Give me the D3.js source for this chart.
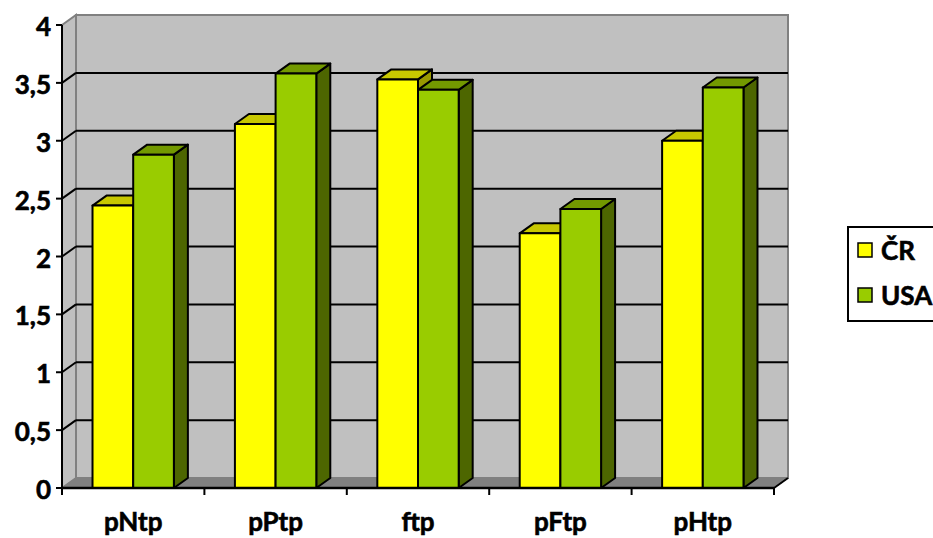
<!DOCTYPE html>
<html>
<head>
<meta charset="utf-8">
<script src="https://cdn.jsdelivr.net/npm/d3@7"></script>
<style>
  html, body { margin: 0; padding: 0; background: #fff; }
  svg { display: block; }
  text { font-family: Lato, "Open Sans", sans-serif; font-weight: bold; fill: #000; stroke: #000; stroke-width: 0.6px; }
</style>
</head>
<body>
<svg id="chart" width="933" height="538"></svg>
<script>
// Chart data
const categories = ["pNtp", "pPtp", "ftp", "pFtp", "pHtp"];
const seriesNames = ["ČR", "USA"];
const crValues  = [2.44, 3.145, 3.53, 2.20, 3.00];
const usaValues = [2.88, 3.58, 3.44, 2.41, 3.46];
const yTicks = [0, 0.5, 1, 1.5, 2, 2.5, 3, 3.5, 4];
const yTickLabels = ["0", "0,5", "1", "1,5", "2", "2,5", "3", "3,5", "4"];

const palette = {
  "ČR":  { front: "#FFFF00", top: "#C8C800", side: "#999900" },
  "USA": { front: "#99CC00", top: "#739900", side: "#4D6600" }
};
const wallFill = "#C0C0C0", floorFill = "#808080", frameStroke = "#808080";

const svg = d3.select("#chart");

// Plot frame (front plane) and oblique depth offset
const pLeft = 62, pRight = 774, pTop = 25, pBottom = 488;
const dx = 14, dy = -10;

const y = d3.scaleLinear().domain([0, 4]).range([pBottom, pTop]);
const x0 = d3.scaleBand().domain(categories).range([pLeft, pRight]).padding(0);
const barW = x0.bandwidth() / 3.5;
const x1 = d3.scaleBand().domain(seriesNames)
  .range([barW * 0.75, barW * 2.75]).padding(0);

const g = svg.append("g");

// Back wall
g.append("rect")
  .attr("x", pLeft + dx).attr("y", pTop + dy)
  .attr("width", pRight - pLeft).attr("height", pBottom - pTop)
  .attr("fill", wallFill).attr("stroke", frameStroke).attr("stroke-width", 2);

// Side wall
g.append("path")
  .attr("d", d3.line()([[pLeft, pTop], [pLeft + dx, pTop + dy], [pLeft + dx, pBottom + dy], [pLeft, pBottom]]) + "Z")
  .attr("fill", wallFill).attr("stroke", frameStroke).attr("stroke-width", 2);

// Floor
g.append("path")
  .attr("d", d3.line()([[pLeft, pBottom], [pRight, pBottom], [pRight + dx, pBottom + dy], [pLeft + dx, pBottom + dy]]) + "Z")
  .attr("fill", floorFill).attr("stroke", frameStroke).attr("stroke-width", 1);

// Gridlines on back wall and side wall
const gridVals = yTicks.filter(v => v > 0 && v < 4);
g.selectAll("line.grid-back").data(gridVals).join("line")
  .attr("class", "grid-back")
  .attr("x1", pLeft + dx).attr("x2", pRight + dx)
  .attr("y1", d => y(d) + dy).attr("y2", d => y(d) + dy)
  .attr("stroke", "#000").attr("stroke-width", 2);
g.selectAll("line.grid-side").data(gridVals).join("line")
  .attr("class", "grid-side")
  .attr("x1", pLeft).attr("x2", pLeft + dx)
  .attr("y1", d => y(d)).attr("y2", d => y(d) + dy)
  .attr("stroke", "#000").attr("stroke-width", 2);

// Y axis
g.append("line").attr("x1", pLeft).attr("x2", pLeft).attr("y1", pTop).attr("y2", pBottom)
  .attr("stroke", "#000").attr("stroke-width", 2);
g.selectAll("line.ytick").data(yTicks).join("line")
  .attr("class", "ytick")
  .attr("x1", pLeft - 6).attr("x2", pLeft)
  .attr("y1", d => y(d)).attr("y2", d => y(d))
  .attr("stroke", "#000").attr("stroke-width", 2);
g.selectAll("text.ylab").data(yTicks).join("text")
  .attr("class", "ylab")
  .attr("x", pLeft - 11).attr("y", d => y(d) + 11)
  .attr("text-anchor", "end")
  .style("font-size", "26px")
  .text((d, i) => yTickLabels[i]);

// Bars (drawn left to right so nearer faces overlap correctly)
const bars = [];
categories.forEach((c, i) => {
  bars.push({ cat: c, s: "ČR", v: crValues[i] });
  bars.push({ cat: c, s: "USA", v: usaValues[i] });
});
const bg = g.append("g");
bars.forEach(b => {
  const bx = x0(b.cat) + x1(b.s);
  const w = x1.bandwidth();
  const yt = y(b.v), yb = y(0);
  const col = palette[b.s];
  const grp = bg.append("g").attr("stroke", "#000").attr("stroke-width", 2).attr("stroke-linejoin", "round");
  // side face
  grp.append("path")
    .attr("d", d3.line()([[bx + w, yt], [bx + w + dx, yt + dy], [bx + w + dx, yb + dy], [bx + w, yb]]) + "Z")
    .attr("fill", col.side);
  // top face
  grp.append("path")
    .attr("d", d3.line()([[bx, yt], [bx + dx, yt + dy], [bx + w + dx, yt + dy], [bx + w, yt]]) + "Z")
    .attr("fill", col.top);
  // front face
  grp.append("rect")
    .attr("x", bx).attr("y", yt).attr("width", w).attr("height", yb - yt)
    .attr("fill", col.front);
});

// X axis
g.append("line").attr("x1", pLeft).attr("x2", pRight).attr("y1", pBottom).attr("y2", pBottom)
  .attr("stroke", "#000").attr("stroke-width", 2.5);
g.append("line").attr("x1", pRight).attr("x2", pRight + dx).attr("y1", pBottom).attr("y2", pBottom + dy)
  .attr("stroke", "#000").attr("stroke-width", 2);
const catEdges = categories.map(c => x0(c)).concat([pRight]);
g.selectAll("line.xtick").data(catEdges).join("line")
  .attr("class", "xtick")
  .attr("x1", d => d).attr("x2", d => d)
  .attr("y1", pBottom).attr("y2", pBottom + 7)
  .attr("stroke", "#000").attr("stroke-width", 2);
g.selectAll("text.xlab").data(categories).join("text")
  .attr("class", "xlab")
  .attr("x", d => x0(d) + x0.bandwidth() / 2)
  .attr("y", 531)
  .attr("text-anchor", "middle")
  .style("font-size", "26px")
  .text(d => d);

// Legend
const lg = svg.append("g");
lg.append("rect").attr("x", 848).attr("y", 227).attr("width", 110).attr("height", 94)
  .attr("fill", "#fff").attr("stroke", "#000").attr("stroke-width", 2);
seriesNames.forEach((s, i) => {
  const ly = 250 + i * 45;
  lg.append("rect").attr("x", 858).attr("y", ly - 7).attr("width", 14).attr("height", 14)
    .attr("fill", palette[s].front).attr("stroke", "#000").attr("stroke-width", 1.5);
  lg.append("text").attr("x", 881).attr("y", ly + 10)
    .style("font-size", "26px").text(s);
});
</script>
</body>
</html>
